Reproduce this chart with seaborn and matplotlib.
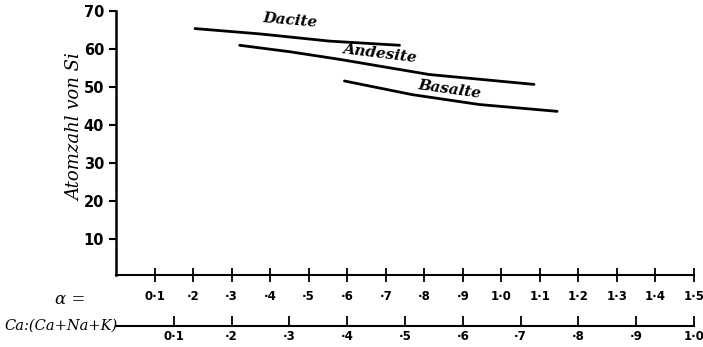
import pandas as pd
import matplotlib
matplotlib.use("Agg")
import matplotlib.pyplot as plt
import seaborn as sns

# values: alpha on x, number of Si atoms on y
dacite_alpha = [0.205, 0.373, 0.554, 0.736]
dacite_si = [65.4, 64.0, 62.1, 61.0]
andesite_alpha = [0.321, 0.451, 0.580, 0.813, 1.085]
andesite_si = [61.0, 59.3, 57.3, 53.3, 50.7]
basalte_alpha = [0.593, 0.769, 0.943, 1.145]
basalte_si = [51.6, 48.0, 45.4, 43.6]

y_ticks = [10, 20, 30, 40, 50, 60, 70]
alpha_ticks = [0.1, 0.2, 0.3, 0.4, 0.5, 0.6, 0.7, 0.8, 0.9, 1.0, 1.1, 1.2, 1.3, 1.4, 1.5]
alpha_labels = ["0·1", "·2", "·3", "·4", "·5", "·6", "·7", "·8", "·9", "1·0",
                "1·1", "1·2", "1·3", "1·4", "1·5"]
ca_ticks = [0.1, 0.2, 0.3, 0.4, 0.5, 0.6, 0.7, 0.8, 0.9, 1.0]
ca_labels = ["0·1", "·2", "·3", "·4", "·5", "·6", "·7", "·8", "·9", "1·0"]

rocks = pd.concat([
    pd.DataFrame({"alpha": dacite_alpha, "si": dacite_si, "rock": "Dacite"}),
    pd.DataFrame({"alpha": andesite_alpha, "si": andesite_si, "rock": "Andesite"}),
    pd.DataFrame({"alpha": basalte_alpha, "si": basalte_si, "rock": "Basalte"}),
])

sns.set_style("ticks")
plt.rcParams["font.family"] = ["DejaVu Sans"]
for key in ["text.color", "axes.labelcolor", "xtick.color", "ytick.color", "axes.edgecolor"]:
    plt.rcParams[key] = "black"

fig = plt.figure(figsize=(7.03, 3.47), dpi=100)
ax = fig.add_axes([0.165, 0.2075, 0.822, 0.7605])

for rock, grp in rocks.groupby("rock", sort=False):
    sns.lineplot(data=grp, x="alpha", y="si", color="black", linewidth=2.0,
                 sort=False, estimator=None, ax=ax)

ax.set_xlim(0, 1.5)
ax.set_ylim(0.5, 70)
ax.set_xlabel("")
ax.set_ylabel("Atomzahl von Si", family="DejaVu Serif", style="italic", fontsize=13)
ax.yaxis.set_label_coords(-0.055, 0.56)

ax.set_yticks(y_ticks)
ax.set_yticklabels([str(v) for v in y_ticks], fontweight="bold", fontsize=10.5)
ax.set_xticks(alpha_ticks)
ax.set_xticklabels(alpha_labels, fontweight="bold", fontsize=8.5)
ax.tick_params(axis="x", direction="inout", length=10, width=1.3, pad=6)
ax.tick_params(axis="y", direction="out", length=5, width=1.5)
for side in ["top", "right"]:
    ax.spines[side].set_visible(False)
ax.spines["left"].set_linewidth(1.8)
ax.spines["bottom"].set_linewidth(1.5)

labels = [("Dacite", 0.451, 67.6, -5), ("Andesite", 0.684, 58.7, -7),
          ("Basalte", 0.865, 49.3, -8)]
for name, lx, ly, rot in labels:
    ax.text(lx, ly, name, family="DejaVu Serif", style="italic", fontweight="bold",
            fontsize=11, rotation=rot, ha="center", va="center")

ax.text(-0.08, -6.0, "α =", family="DejaVu Serif", style="italic", fontsize=12,
        ha="right", va="center", clip_on=False)

sec = ax.secondary_xaxis(-0.193, functions=(lambda a: a / 1.5, lambda c: c * 1.5))
sec.set_xticks(ca_ticks)
sec.set_xticklabels(ca_labels, fontweight="bold", fontsize=8.5)
sec.tick_params(direction="in", length=7, width=1.3, pad=3)
sec.spines["bottom"].set_linewidth(1.5)

fig.text(118 / 703, 1 - 326 / 347, "Ca:(Ca+Na+K)", family="DejaVu Serif",
         style="italic", fontsize=10.5, ha="right", va="center")

fig.savefig("out.png", dpi=100)
